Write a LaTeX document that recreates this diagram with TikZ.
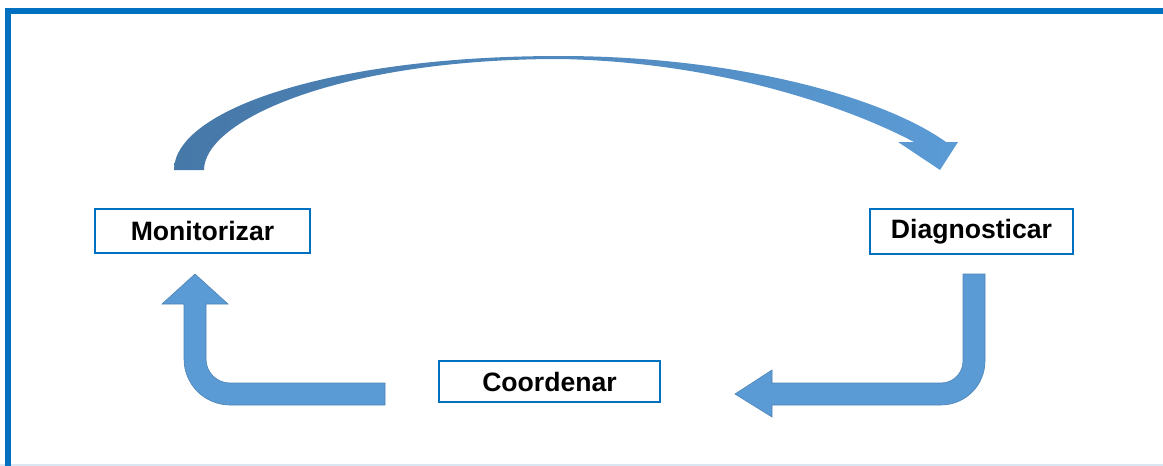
\documentclass[tikz,border=0pt]{standalone}
\usepackage{fontspec}
\setmainfont{Liberation Sans}

\definecolor{framecol}{HTML}{0070C0}
\definecolor{arrowcol}{HTML}{5B9BD5}
\definecolor{arrowdark}{HTML}{4678A8}
\definecolor{edgecol}{HTML}{DAE6F2}

\tikzset{
  stage/.style={draw=framecol, line width=1pt, fill=white, inner sep=0pt,
    font=\fontsize{13.3}{15}\selectfont\bfseries},
  blockarrow/.style={fill=arrowcol, draw=arrowcol!85!black, line width=0.3pt}
}

\begin{document}
\begin{tikzpicture}[x=0.5pt,y=-0.5pt]
    \clip (0,0) rectangle (1163,466);
    \draw[edgecol, line width=0.6pt] (0,465) -- (1163,465);
    \draw[framecol, line width=3pt] (7.5,10.5) rectangle (1180,480);

    \node[stage, minimum width=107.5pt, minimum height=22pt] (mon) at (202.5,231) {Monitorizar};
    \node[stage, minimum width=101.5pt, minimum height=22.5pt] (diag) at (971.5,231.5) {Diagnosticar};
    \node[stage, minimum width=110.5pt, minimum height=20.5pt] (coord) at (549.5,381.5) {Coordenar};

    \shade[left color=arrowdark, right color=arrowcol]
      (174,170) .. controls (174,110) and (330,56) .. (560,56)
      .. controls (730,56) and (880,95) .. (946,142)
      -- (958,142) -- (940,170) -- (898,142) -- (914,142)
      .. controls (850,108) and (720,62) .. (560,59)
      .. controls (340,59) and (204,120) .. (204,170) -- cycle;

    \filldraw[blockarrow] (963,274) -- (985,274) -- (985,361)
      .. controls (985,385.3) and (965.3,405) .. (941,405)
      -- (772,405) -- (772,417) -- (735,394) -- (772,370) -- (772,383) -- (941,383)
      .. controls (953.2,383) and (963,373.2) .. (963,361) -- cycle;

    \filldraw[blockarrow] (385,383) -- (230,383)
      .. controls (216.7,383) and (206,372.3) .. (206,359)
      -- (206,304) -- (228,304) -- (195,274) -- (162,304) -- (184,304) -- (184,359)
      .. controls (184,384.4) and (204.6,405) .. (230,405) -- (385,405) -- cycle;
  \end{tikzpicture}
\end{document}
